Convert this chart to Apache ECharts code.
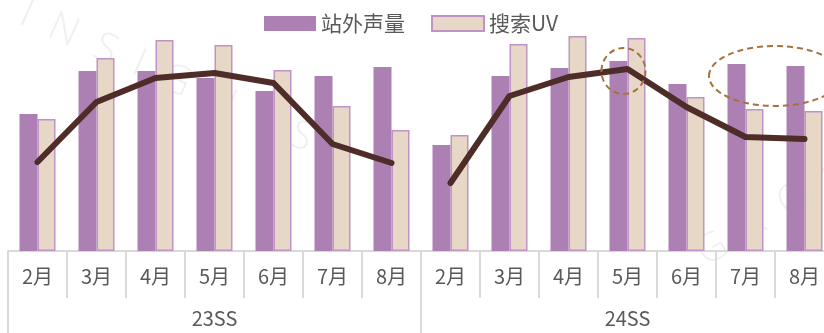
<!DOCTYPE html>
<html>
<head>
<meta charset="utf-8">
<script src="https://cdn.jsdelivr.net/npm/echarts@6/dist/echarts.min.js"></script>
<style>
  html, body { margin: 0; padding: 0; background: #ffffff; }
  #chart { width: 824px; height: 333px; }
</style>
</head>
<body>
<div id="chart"></div>
<script>
// Months shown inside each season block
const months = ['2月', '3月', '4月', '5月', '6月', '7月', '8月'];
const seasons = ['23SS', '24SS'];
const categories = months.concat(months);

// Off-site buzz volume (站外声量), 23SS then 24SS
const volume = [137, 180, 180, 173, 160, 175, 184, 106, 175, 183, 190, 167, 187, 185];
// Search UV (搜索UV), 23SS then 24SS
const searchUV = [132, 193, 211, 206, 181, 145, 121, 116, 207, 215, 213, 154, 142, 140];
// Trend line, one segment per season
const trend23 = [89, 149, 173, 178, 168, 107, 88];
const trend24 = [68, 155, 174, 182, 144, 114, 112];

const gap = months.map(() => '-');
const trendA = trend23.concat(gap);
const trendB = gap.concat(trend24);

const PURPLE = '#ad80b3';
const BEIGE = '#e7d7c7';
const BEIGE_EDGE = '#bf93c4';
const LINE = '#4e2c28';
const GRIDLINE = '#d9d9d9';
const TEXT = '#595959';
const FONT = '"Noto Sans CJK SC", "Noto Sans", sans-serif';

const chart = echarts.init(document.getElementById('chart'), null, { renderer: 'canvas' });

const lineStyle = { color: LINE, width: 6, cap: 'round', join: 'round' };

chart.setOption({
  animation: false,
  backgroundColor: '#ffffff',
  textStyle: { fontFamily: FONT },
  legend: {
    data: ['站外声量', '搜索UV'],
    left: 264,
    top: 13,
    padding: 0,
    itemWidth: 52,
    itemHeight: 15,
    itemGap: 26,
    textStyle: { color: TEXT, fontSize: 21, fontFamily: FONT },
    icon: 'rect'
  },
  // plot runs a little past the right edge of the canvas
  grid: { left: 8, width: 826, top: 21, bottom: 82, containLabel: false, outerBoundsMode: 'none' },
  xAxis: [
    {
      type: 'category',
      data: categories,
      position: 'bottom',
      axisLine: { show: true, lineStyle: { color: GRIDLINE, width: 2 } },
      axisTick: { show: true, interval: 0, length: 47, lineStyle: { color: GRIDLINE, width: 2 } },
      axisLabel: { interval: 0, margin: 15, fontSize: 20, color: TEXT, fontFamily: FONT }
    },
    {
      type: 'category',
      data: seasons,
      position: 'bottom',
      axisLine: { show: false },
      axisTick: { show: true, interval: 0, length: 84, lineStyle: { color: GRIDLINE, width: 2 } },
      axisLabel: { interval: 0, margin: 57, fontSize: 20, color: TEXT, fontFamily: FONT }
    }
  ],
  yAxis: {
    type: 'value',
    min: 0,
    max: 230,
    show: false,
    splitLine: { show: false }
  },
  series: [
    {
      name: '站外声量',
      type: 'bar',
      xAxisIndex: 0,
      data: volume,
      barWidth: 18,
      barGap: '0%',
      itemStyle: { color: PURPLE }
    },
    {
      name: '搜索UV',
      type: 'bar',
      xAxisIndex: 0,
      data: searchUV,
      barWidth: 18,
      barGap: '0%',
      itemStyle: { color: BEIGE, borderColor: BEIGE_EDGE, borderWidth: 1.5 }
    },
    {
      name: '趋势23SS',
      type: 'line',
      xAxisIndex: 0,
      data: trendA,
      symbol: 'none',
      z: 5,
      lineStyle: lineStyle
    },
    {
      name: '趋势24SS',
      type: 'line',
      xAxisIndex: 0,
      data: trendB,
      symbol: 'none',
      z: 5,
      lineStyle: lineStyle
    }
  ]
});

// Dashed callouts anchored to data positions
const toPx = (idx, val) => chart.convertToPixel({ xAxisIndex: 0, yAxisIndex: 0 }, [idx, val]);
const peak = toPx(10, 180);
const tailA = toPx(12, 175);
const tailB = toPx(13, 175);
const calloutStyle = { fill: 'none', stroke: '#a5723f', lineWidth: 2, lineDash: [6, 4] };

chart.setOption({
  graphic: [
    {
      type: 'text', z: -10, rotation: -0.42, x: 30, y: -6,
      style: { text: 'I  N  S  I  G  H  T  S', fill: '#f0f0f0', font: '300 40px "Open Sans", sans-serif' }
    },
    {
      type: 'text', z: -10, rotation: 0.55, x: 690, y: 240,
      style: { text: 'G  R  O  U  P', fill: '#f0f0f0', font: '300 40px "Open Sans", sans-serif' }
    },
    {
      type: 'ellipse', z: 10,
      shape: { cx: peak[0] - 4, cy: peak[1], rx: 22, ry: 23 },
      style: calloutStyle
    },
    {
      type: 'ellipse', z: 10,
      shape: { cx: (tailA[0] + tailB[0]) / 2, cy: tailA[1], rx: 66, ry: 30 },
      style: calloutStyle
    }
  ]
});
</script>
</body>
</html>
